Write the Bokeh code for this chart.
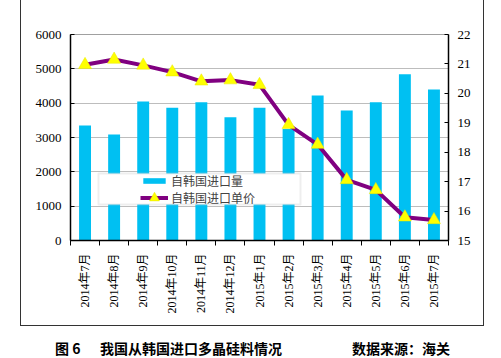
import math
from bokeh.plotting import figure
from bokeh.models import (Range1d, LinearAxis, FixedTicker, BoxAnnotation, Legend,
                          LegendItem, Div, GridBox)
from bokeh.embed import file_html
from bokeh.resources import INLINE

months = ["2014年7月", "2014年8月", "2014年9月", "2014年10月", "2014年11月", "2014年12月",
          "2015年1月", "2015年2月", "2015年3月", "2015年4月", "2015年5月", "2015年6月", "2015年7月"]
volume = [3350, 3090, 4050, 3870, 4030, 3590, 3870, 3250, 4220, 3790, 4030, 4840, 4400]
price = [20.97, 21.15, 20.95, 20.72, 20.41, 20.45, 20.29, 18.93, 18.26, 17.06, 16.72, 15.79, 15.70]
left_ticks = [0, 1000, 2000, 3000, 4000, 5000, 6000]
right_ticks = [15, 16, 17, 18, 19, 20, 21, 22]
vol_label = "自韩国进口量"
price_label = "自韩国进口单价"
caption_fig = "图 6"
caption_title = "我国从韩国进口多晶硅料情况"
caption_src = "数据来源：海关"

idx = list(range(len(months)))
SERIF = "'Liberation Serif', 'Noto Sans CJK SC'"

p = figure(width=501, height=325, output_backend="svg", toolbar_location=None,
           x_range=Range1d(-0.5, len(months) - 0.5), y_range=Range1d(0, 6000),
           min_border_left=70, min_border_right=53, min_border_top=34, min_border_bottom=85,
           background_fill_color="white", border_fill_alpha=0)
p.extra_y_ranges = {"price": Range1d(15, 22)}
p.outline_line_color = "#a0a0a0"
p.outline_line_width = 1

# x axis
p.xaxis.ticker = FixedTicker(ticks=idx, minor_ticks=[i - 0.5 for i in idx] + [len(idx) - 0.5])
p.xaxis.major_label_overrides = {i: m for i, m in zip(idx, months)}
p.xaxis.major_label_orientation = math.pi / 2
p.xaxis.major_tick_out = 0
p.xaxis.major_tick_in = 0
p.xaxis.minor_tick_out = 5
p.xaxis.minor_tick_in = 0
p.xaxis.major_label_text_font = SERIF
p.xaxis.major_label_text_font_size = "12px"
p.xaxis.major_label_text_color = "black"
p.xaxis.major_label_standoff = 8
p.xaxis.axis_line_color = "black"
p.xaxis.axis_line_width = 1.5
p.xgrid.grid_line_color = None

# left axis
p.yaxis.ticker = FixedTicker(ticks=left_ticks)
p.yaxis.major_tick_in = 4
p.yaxis.major_tick_out = 0
p.yaxis.minor_tick_line_color = None
p.yaxis.major_label_text_font = SERIF
p.yaxis.major_label_text_font_size = "13px"
p.yaxis.major_label_text_color = "black"
p.yaxis.major_label_standoff = 9
p.yaxis.axis_line_color = "black"
p.yaxis.axis_line_width = 1.5
p.ygrid.ticker = FixedTicker(ticks=left_ticks)
p.ygrid.grid_line_color = "#bdbdbd"
p.ygrid.grid_line_width = 1

# right axis
ra = LinearAxis(y_range_name="price", ticker=FixedTicker(ticks=right_ticks))
ra.major_tick_in = 4
ra.major_tick_out = 0
ra.minor_tick_line_color = None
ra.major_label_text_font = SERIF
ra.major_label_text_font_size = "13px"
ra.major_label_text_color = "black"
ra.major_label_standoff = 9
ra.axis_line_color = "black"
ra.axis_line_width = 1.5
p.add_layout(ra, "right")

bars = p.vbar(x=idx, top=volume, width=0.41, fill_color="#00C0F2", line_color=None)
ln = p.line(x=idx, y=price, y_range_name="price", line_color="#800080", line_width=4)
mk = p.scatter(x=idx, y=price, y_range_name="price", marker="triangle", size=13,
               fill_color="#FFFF00", line_color="#E8E800", line_width=0.5)

# legend box
lbox = BoxAnnotation(left=28, right=230, top=67, bottom=36,
                     left_units="screen", right_units="screen",
                     top_units="screen", bottom_units="screen",
                     fill_color="white", fill_alpha=1.0,
                     line_color="#c8c8c8", line_width=2)
p.add_layout(lbox)

common = dict(background_fill_alpha=0, border_line_color=None, padding=0, spacing=0,
              glyph_width=28, label_standoff=3, label_text_font="Noto Sans CJK SC",
              label_text_font_size="12px")
legend_a = Legend(items=[LegendItem(label=vol_label, renderers=[bars])],
                  location=(70, 51), glyph_height=7, label_height=7, **common)
legend_b = Legend(items=[LegendItem(label=price_label, renderers=[ln, mk])],
                  location=(70, 30), glyph_height=25, label_height=25, **common)
p.add_layout(legend_a, "center")
p.add_layout(legend_b, "center")

# overlay on top of the plot: outer frame lines and the caption
cap_style = "position:absolute;top:338px;white-space:nowrap;"
box_style = ("position:absolute;left:20px;top:0px;width:464px;height:326px;"
             "border-left:1px solid #333333;border-right:1px solid #333333;"
             "border-bottom:1px solid #333333;border-top:0;box-sizing:border-box;"
             "background:transparent;pointer-events:none;")
ov_html = (
    '<div style="position:relative;width:501px;height:358px;pointer-events:none;'
    'font-family:\'Noto Sans CJK SC\';font-weight:bold;font-size:14px;color:#000;">'
    f'<div style="{box_style}"></div>'
    f'<span style="{cap_style}left:55px;">{caption_fig}</span>'
    f'<span style="{cap_style}left:100px;">{caption_title}</span>'
    f'<span style="{cap_style}left:352px;">{caption_src}</span>'
    '</div>'
)
overlay = Div(text=ov_html, width=501, height=358, margin=0)
p.margin = 0

layout = GridBox(children=[(p, 0, 0), (overlay, 0, 0)])
open("out.html", "w").write(file_html(layout, INLINE))
